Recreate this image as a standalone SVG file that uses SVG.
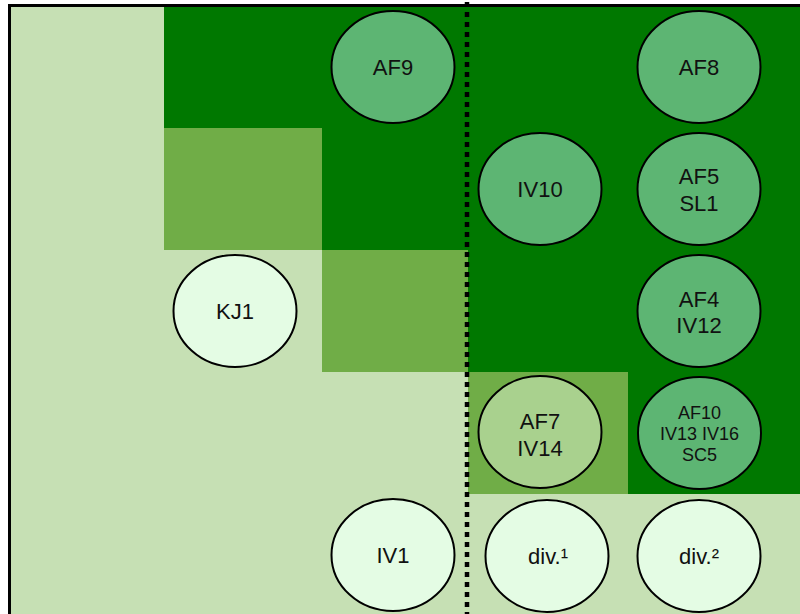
<svg xmlns="http://www.w3.org/2000/svg" width="800" height="614" viewBox="0 0 800 614">
  <style>
    .light { fill: #c6e0b4; }
    .dark { fill: #007800; }
    .mid { fill: #70ad47; }
    .node ellipse { stroke: #000; stroke-width: 2; }
    .n-green ellipse { fill: #5db573; }
    .n-pale ellipse { fill: #e4fce4; }
    .n-sage ellipse { fill: #a9d18e; }
    text { font-family: "Liberation Sans", Arial, Helvetica, sans-serif; font-size: 22px; fill: #111; text-anchor: middle; }
    text.small { font-size: 18px; }
  </style>

  <!-- grid of shaded cells -->
  <g id="cells">
    <rect class="light" x="11" y="7" width="789" height="607"/>
    <rect class="dark" x="164" y="7" width="636" height="121"/>
    <rect class="mid" x="164" y="128" width="158" height="122"/>
    <rect class="dark" x="322" y="128" width="478" height="122"/>
    <rect class="mid" x="322" y="250" width="146" height="122"/>
    <rect class="dark" x="468" y="250" width="332" height="122"/>
    <rect class="mid" x="468" y="372" width="160" height="122"/>
    <rect class="dark" x="628" y="372" width="172" height="122"/>
  </g>

  <!-- outer frame -->
  <path d="M9.5 616 V5.5 H802" fill="none" stroke="#000" stroke-width="3"/>

  <!-- divider -->
  <g id="connectors">
    <line x1="467" y1="2" x2="467" y2="614" stroke="#000" stroke-width="4.5" stroke-dasharray="5 5"/>
  </g>

  <g id="AF9" class="node n-green">
    <ellipse cx="393" cy="67" rx="61.5" ry="56"/>
    <text x="393" y="75">AF9</text>
  </g>
  <g id="AF8" class="node n-green">
    <ellipse cx="699" cy="67" rx="61.5" ry="56"/>
    <text x="699" y="75">AF8</text>
  </g>
  <g id="IV10" class="node n-green">
    <ellipse cx="540" cy="189" rx="61.5" ry="56"/>
    <text x="540" y="197">IV10</text>
  </g>
  <g id="AF5-SL1" class="node n-green">
    <ellipse cx="699" cy="189" rx="61.5" ry="56"/>
    <text x="699" y="184">AF5</text>
    <text x="699" y="211">SL1</text>
  </g>
  <g id="KJ1" class="node n-pale">
    <ellipse cx="235" cy="311" rx="61.5" ry="56"/>
    <text x="235" y="319">KJ1</text>
  </g>
  <g id="AF4-IV12" class="node n-green">
    <ellipse cx="699" cy="311" rx="61.5" ry="56"/>
    <text x="699" y="307">AF4</text>
    <text x="699" y="333">IV12</text>
  </g>
  <g id="AF7-IV14" class="node n-sage">
    <ellipse cx="540" cy="432" rx="61.5" ry="56"/>
    <text x="540" y="429">AF7</text>
    <text x="540" y="456">IV14</text>
  </g>
  <g id="AF10-IV13-IV16-SC5" class="node n-green">
    <ellipse cx="699.5" cy="433" rx="61.5" ry="56"/>
    <text class="small" x="699.5" y="419">AF10</text>
    <text class="small" x="699.5" y="440">IV13 IV16</text>
    <text class="small" x="699.5" y="461">SC5</text>
  </g>
  <g id="IV1" class="node n-pale">
    <ellipse cx="393" cy="555" rx="61.5" ry="56"/>
    <text x="393" y="563">IV1</text>
  </g>
  <g id="div1" class="node n-pale">
    <ellipse cx="547" cy="556" rx="61.5" ry="56"/>
    <text x="548" y="564">div.¹</text>
  </g>
  <g id="div2" class="node n-pale">
    <ellipse cx="699" cy="556" rx="61.5" ry="56"/>
    <text x="699" y="564">div.²</text>
  </g>
</svg>
